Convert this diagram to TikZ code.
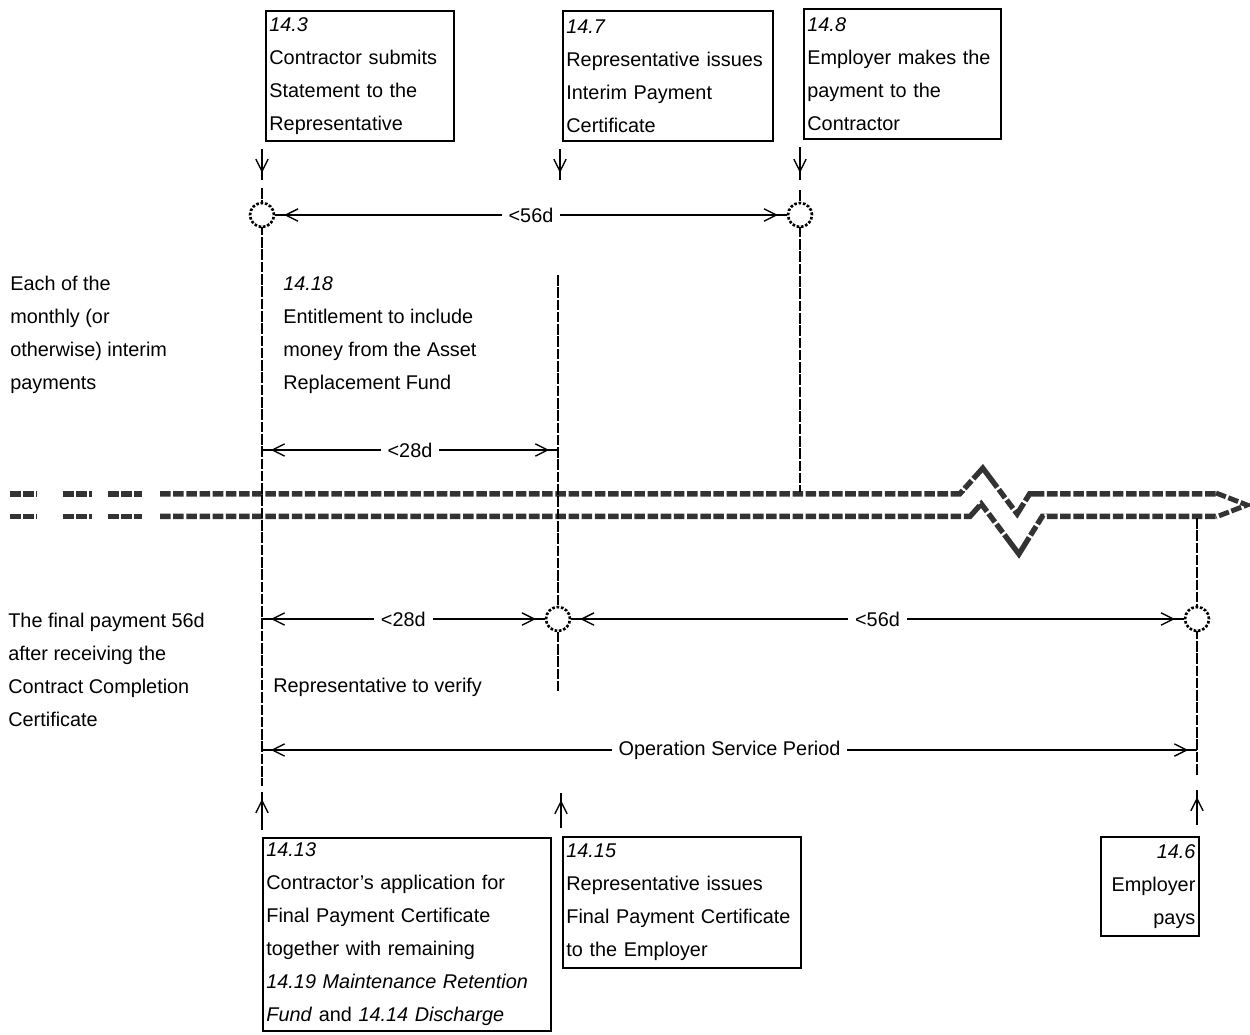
\documentclass[tikz,border=0pt]{standalone}
\usepackage{fontspec}
\setmainfont{Liberation Sans}
\usetikzlibrary{arrows.meta, positioning}
\newcommand\clausefont{\fontsize{11.3}{18.8}\selectfont\hyphenpenalty=10000\exhyphenpenalty=10000}

\begin{document}
\begin{tikzpicture}[x=0.02cm, y=-0.02cm,
    clause/.style = {draw, line width=1pt, rectangle, anchor=north west, align=left, inner xsep=2pt, inner ysep=2pt, font=\clausefont},
    note/.style = {anchor=north west, align=left, inner sep=0pt, font=\clausefont},
    event/.style = {circle, draw, densely dotted, line width=1.5pt, fill=white, minimum size=0.48cm, inner sep=0pt},
    timeline/.style = {draw=black!80, line width=0.56cm, dash pattern=on 6pt off 1.5pt, line join=miter, miter limit=4,
        postaction={draw=white, solid, line width=0.34cm}},
    tipedge/.style = {draw=black!80, line width=2.8pt, dash pattern=on 6pt off 1.5pt, line join=miter},
    vline/.style = {line width=1.5pt, dash pattern=on 6pt off 1pt},
    span/.style = {thick, postaction={draw, {Straight Barb[length=7pt,width=7pt]}-{Straight Barb[length=7pt,width=7pt]}, shorten <=5pt, shorten >=5pt}},
    feed/.style = {thick, postaction={draw, -{Straight Barb[length=7pt,width=7pt]}, shorten >=4pt}},
    lbl/.style = {fill=white, inner xsep=4pt, inner ysep=1pt, font=\clausefont}
]
\useasboundingbox (0,0) rectangle (1250,1034);

% Clause boxes, top row
\node (b143) [clause, text width=3.62cm, minimum height=2.6cm] at (265,10) {\textit{14.3}\\Contractor submits\\Statement to the\\Representative};
\node (b147) [clause, text width=4.06cm, minimum height=2.6cm] at (562,10) {\textit{14.7}\\Representative issues\\Interim Payment\\Certificate};
\node (b148) [clause, text width=3.80cm, minimum height=2.6cm] at (803,8) {\textit{14.8}\\Employer makes the\\payment to the\\Contractor};

% Clause boxes, bottom row
\node (b1413) [clause, text width=5.62cm, minimum height=3.86cm] at (262,837) {\textit{14.13}\\Contractor's application for\\Final Payment Certificate\\together with remaining\\\textit{14.19 Maintenance Retention}\\\textit{Fund} and \textit{14.14 Discharge}};
\node (b1415) [clause, text width=4.62cm, minimum height=2.62cm] at (562,836) {\textit{14.15}\\Representative issues\\Final Payment Certificate\\to the Employer};
\node (b146) [clause, align=right, text width=1.82cm, minimum height=1.98cm] at (1100,836) {\textit{14.6}\\Employer\\pays};

% Side notes
\node (n1) [note] at (10,276) {Each of the\\monthly (or\\otherwise) interim\\payments};
\node (n2) [note] at (8,613) {The final payment 56d\\after receiving the\\Contract Completion\\Certificate};
\node (n3) [note] at (283,276) {\textit{14.18}\\Entitlement to include\\money from the Asset\\Replacement Fund};
\node (n4) [note, anchor=west] at (273,687) {Representative to verify};

% Time axis with break
\draw[timeline] (10,505) -- (37,505);
\draw[timeline] (63,505) -- (92,505);
\draw[timeline] (108,505) -- (142,505);
\draw[timeline] (160,505) -- (965,505) -- (982,486) -- (1018,534) -- (1036,505) -- (1216,505);
\draw[tipedge] (1216,493) -- (1247,505) -- (1216,517);

% Vertical milestones
\coordinate (v1t) at (262,188);
\coordinate (v1b) at (262,786);
\coordinate (v2t) at (558,275);
\coordinate (v2b) at (558,692);
\coordinate (v3t) at (800,190);
\coordinate (v3b) at (800,492);
\coordinate (v4t) at (1197,518);
\coordinate (v4b) at (1197,775);
\draw[vline] (v1t) -- (v1b);
\draw[vline] (v2t) -- (v2b);
\draw[vline] (v3t) -- (v3b);
\draw[vline] (v4t) -- (v4b);

% Events
\node (c1) [event] at (262,215) {};
\node (c2) [event] at (800,215) {};
\node (c3) [event] at (558,619) {};
\node (c4) [event] at (1197,619) {};

% Arrows from the boxes
\coordinate (f1a) at (262,149);
\coordinate (f1b) at (262,180);
\coordinate (f2a) at (560,149);
\coordinate (f2b) at (560,180);
\coordinate (f3a) at (800,147);
\coordinate (f3b) at (800,180);
\draw[feed] (f1a) -- (f1b);
\draw[feed] (f2a) -- (f2b);
\draw[feed] (f3a) -- (f3b);

\coordinate (g1a) at (262,830);
\coordinate (g1b) at (262,792);
\coordinate (g2a) at (561,828);
\coordinate (g2b) at (561,793);
\coordinate (g3a) at (1197,825);
\coordinate (g3b) at (1197,790);
\draw[feed] (g1a) -- (g1b);
\draw[feed] (g2a) -- (g2b);
\draw[feed] (g3a) -- (g3b);

% Periods
\coordinate (m1) at (262,450);
\coordinate (m2) at (558,450);
\coordinate (m3) at (262,619);
\coordinate (m4) at (262,750);
\coordinate (m5) at (1197,750);
\draw[span] (c1) -- node[lbl]{<56d} (c2);
\draw[span] (m1) -- node[lbl]{<28d} (m2);
\draw[span] (m3) -- node[lbl]{<28d} (c3);
\draw[span] (c3) -- node[lbl]{<56d} (c4);
\draw[span] (m4) -- node[lbl]{Operation Service Period} (m5);

\end{tikzpicture}
\end{document}
